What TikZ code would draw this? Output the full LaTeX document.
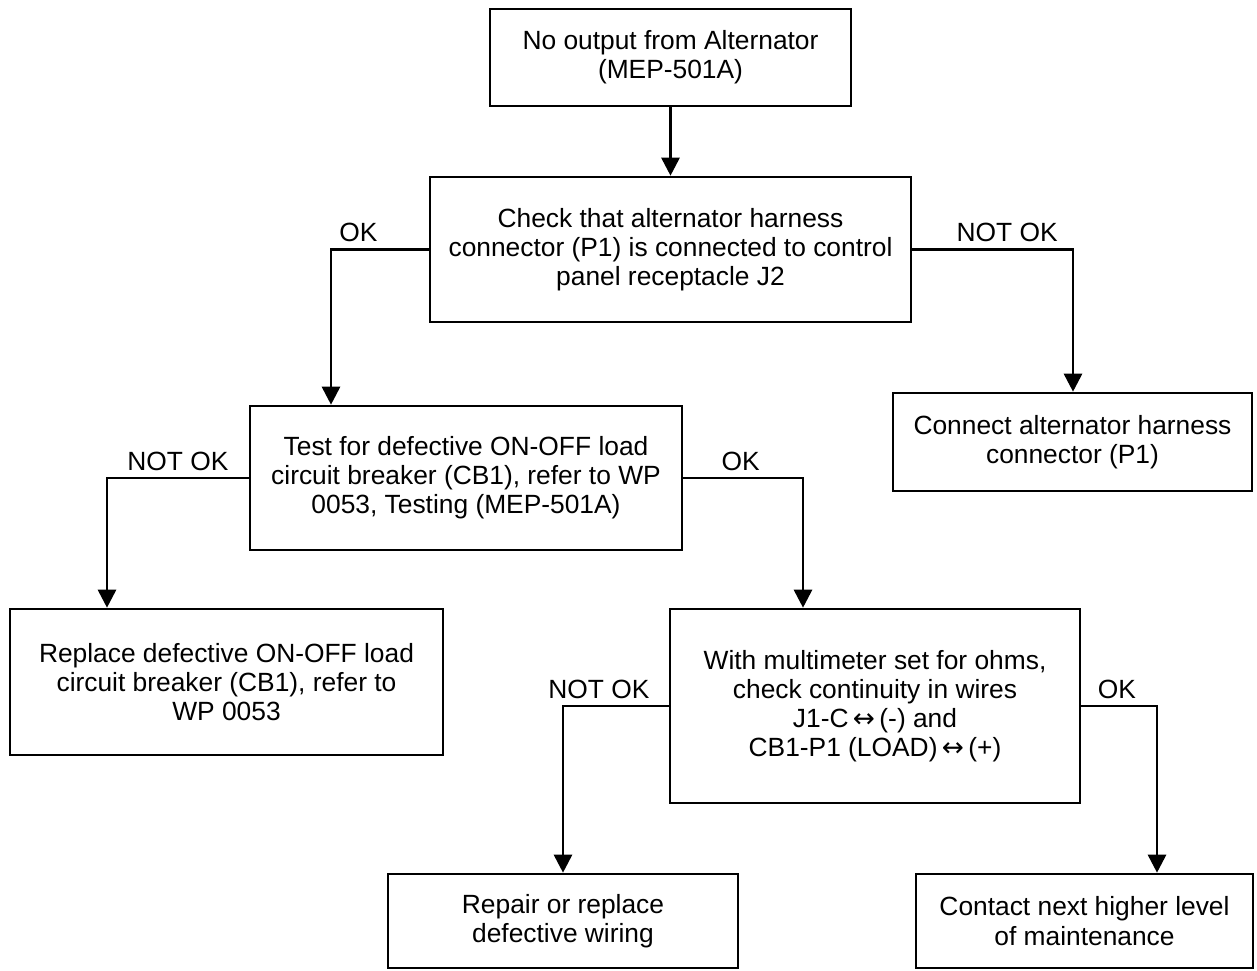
\documentclass[tikz,border=0pt]{standalone}
\usepackage{fontspec}
\setmainfont{Liberation Sans}
\newfontfamily\arrowfont{DejaVu Sans}
\usetikzlibrary{arrows.meta}

\tikzset{
  stepbox/.style={draw, line width=1.5pt, align=center, inner sep=0pt,
    font=\fontsize{15}{16.6}\selectfont},
  flow/.style={line width=1.6pt, -{Triangle[length=0.36cm,width=0.36cm]}},
  answer/.style={font=\fontsize{15}{16.6}\selectfont, above}
}
\newcommand{\wirepair}{\,{\arrowfont\char"2194}\,}

\begin{document}
\begin{tikzpicture}[x=0.02cm, y=-0.02cm]
  \useasboundingbox (0,0) rectangle (1257,970);

  % first two steps (top)
  \node[stepbox, minimum width=7.22cm, minimum height=1.94cm] (start) at (670.5,57.5)
    {No output from Alternator\\(MEP-501A)};
  \node[stepbox, minimum width=9.62cm, minimum height=2.90cm] (harness) at (670.5,249.5)
    {Check that alternator harness\\connector (P1) is connected to control\\panel receptacle J2};
  \node[stepbox, minimum width=7.18cm, minimum height=1.96cm] (connect) at (1072.5,442)
    {Connect alternator harness\\connector (P1)};

  % breaker test (middle)
  \node[stepbox, minimum width=8.64cm, minimum height=2.88cm] (breaker) at (466,478)
    {Test for defective ON-OFF load\\circuit breaker (CB1), refer to WP\\0053, Testing (MEP-501A)};
  \node[stepbox, minimum width=8.66cm, minimum height=2.92cm] (replace) at (226.5,682)
    {Replace defective ON-OFF load\\circuit breaker (CB1), refer to\\WP 0053};
  \node[stepbox, minimum width=8.20cm, minimum height=3.88cm] (wires) at (875,706)
    {With multimeter set for ohms,\\check continuity in wires\\J1-C\wirepair(-) and\\CB1-P1 (LOAD)\wirepair(+)};

  % last steps (bottom)
  \node[stepbox, minimum width=7.00cm, minimum height=1.88cm] (repair) at (563,921)
    {Repair or replace\\defective wiring};
  \node[stepbox, minimum width=6.74cm, minimum height=1.88cm] (contact) at (1084.5,921)
    {Contact next higher level\\of maintenance};

  \coordinate (okA) at (331,249.5); \coordinate (notA) at (1073,249.5);
  \coordinate (notB) at (107,478); \coordinate (okB) at (803,478);
  \coordinate (notC) at (563,706); \coordinate (okC) at (1157,706);

  \draw[flow] (start) -- (harness);
  \draw[flow] (harness.west) -- node[answer, pos=0.72] {OK} (okA) -- (okA |- breaker.north);
  \draw[flow] (harness.east) -- node[answer, pos=0.59] {NOT OK} (notA) -- (notA |- connect.north);
  \draw[flow] (breaker.west) -- node[answer, pos=0.5] {NOT OK} (notB) -- (notB |- replace.north);
  \draw[flow] (breaker.east) -- node[answer, pos=0.48] {OK} (okB) -- (okB |- wires.north);
  \draw[flow] (wires.west) -- node[answer, pos=0.66] {NOT OK} (notC) -- (notC |- repair.north);
  \draw[flow] (wires.east) -- node[answer, pos=0.47] {OK} (okC) -- (okC |- contact.north);
\end{tikzpicture}
\end{document}
